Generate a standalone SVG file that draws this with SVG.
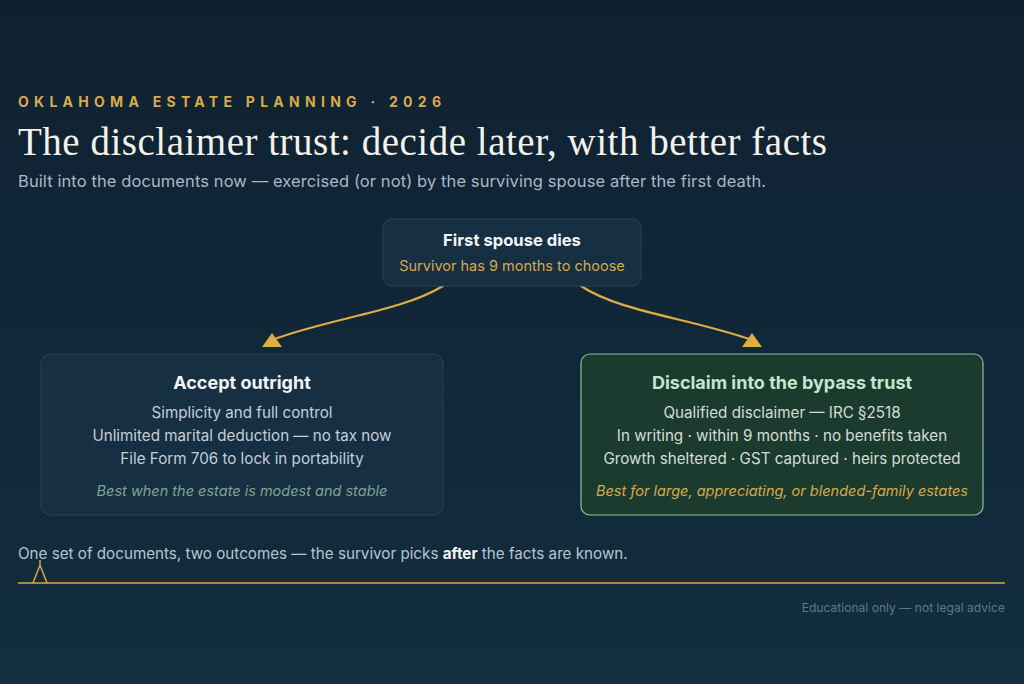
<svg xmlns="http://www.w3.org/2000/svg" width="1024" height="684" viewBox="0 0 1024 684">
  <defs>
    <linearGradient id="bg" x1="0" y1="0" x2="0" y2="1">
      <stop offset="0" stop-color="#0f2131"/>
      <stop offset="1" stop-color="#122e3f"/>
    </linearGradient>
    <marker id="arrow" viewBox="0 0 20 14" refX="10" refY="7" markerWidth="20" markerHeight="14" markerUnits="userSpaceOnUse" orient="0">
      <path d="M0,14 L10,0 L20,14 Z" fill="#e0ac45"/>
    </marker>
  </defs>
  <style>
    .sans { font-family: Inter, "Noto Sans", "Liberation Sans", sans-serif; }
    .node { fill: #172f42; stroke: #26425a; stroke-width: 1; }
    .node-green { fill: #1c3b2f; stroke: #8fbf9f; stroke-width: 1.2; }
    .title { font-weight: 700; font-size: 18px; fill: #f3f5f7; text-anchor: middle; }
    .line { font-size: 15.2px; fill: #c3ced8; text-anchor: middle; }
    .conn { fill: none; stroke: #e0ac45; stroke-width: 2.2; stroke-linecap: round; }
  </style>
  <rect width="1024" height="684" fill="url(#bg)"/>

  <g id="header">
    <text x="18" y="107" class="sans" font-size="14" font-weight="700" fill="#d9aa4b" textLength="423" lengthAdjust="spacing">OKLAHOMA ESTATE PLANNING · 2026</text>
    <text x="18" y="155" font-family="'Liberation Serif', 'DejaVu Serif', serif" font-size="39" fill="#f4f1ea" textLength="809" lengthAdjust="spacing">The disclaimer trust: decide later, with better facts</text>
    <text x="18" y="187" class="sans" font-size="16.5" fill="#a9b8c6" textLength="748" lengthAdjust="spacing">Built into the documents now — exercised (or not) by the surviving spouse after the first death.</text>
  </g>

  <g id="connectors">
    <path class="conn" d="M443,286 C400,312 330,318 272,340" marker-end="url(#arrow)"/>
    <path class="conn" d="M581,286 C620,312 690,318 752,340" marker-end="url(#arrow)"/>
  </g>

  <g id="node-first">
    <rect class="node" x="383" y="219" width="258" height="67" rx="9"/>
    <text x="512" y="246" class="sans title" style="font-size:16.6px">First spouse dies</text>
    <text x="512" y="271" class="sans" font-size="14.5" fill="#d6a94c" text-anchor="middle">Survivor has 9 months to choose</text>
  </g>

  <g id="node-accept">
    <rect class="node" x="41" y="354" width="402" height="161" rx="9"/>
    <text x="242" y="389" class="sans title">Accept outright</text>
    <text x="242" y="418" class="sans line">Simplicity and full control</text>
    <text x="242" y="441" class="sans line">Unlimited marital deduction — no tax now</text>
    <text x="242" y="464" class="sans line">File Form 706 to lock in portability</text>
    <text x="242" y="496" class="sans" font-size="14.5" font-style="italic" fill="#7fa390" text-anchor="middle">Best when the estate is modest and stable</text>
  </g>

  <g id="node-disclaim">
    <rect class="node-green" x="581" y="354" width="402" height="161" rx="9"/>
    <text x="782" y="389" class="sans title" style="fill:#c2e6cf">Disclaim into the bypass trust</text>
    <text x="782" y="418" class="sans line" style="fill:#d3ddd8">Qualified disclaimer — IRC §2518</text>
    <text x="782" y="441" class="sans line" style="fill:#d3ddd8">In writing · within 9 months · no benefits taken</text>
    <text x="782" y="464" class="sans line" style="fill:#d3ddd8">Growth sheltered · GST captured · heirs protected</text>
    <text x="782" y="496" class="sans" font-size="14.5" font-style="italic" fill="#d6a94c" text-anchor="middle">Best for large, appreciating, or blended-family estates</text>
  </g>

  <g id="footer">
    <text x="18" y="559" class="sans" font-size="15.2" fill="#b7c4d0">One set of documents, two outcomes — the survivor picks <tspan font-weight="700" fill="#f3f5f7">after</tspan> the facts are known.</text>
    <line x1="18" y1="583" x2="1005" y2="583" stroke="#d6a94c" stroke-width="1.5"/>
    <path d="M33,583 L40,565 L47,583 M40,565 L40,560" fill="none" stroke="#d6a94c" stroke-width="1.5"/>
    <text x="1005" y="612" class="sans" font-size="12.1" fill="#5e7889" text-anchor="end">Educational only — not legal advice</text>
  </g>
</svg>
